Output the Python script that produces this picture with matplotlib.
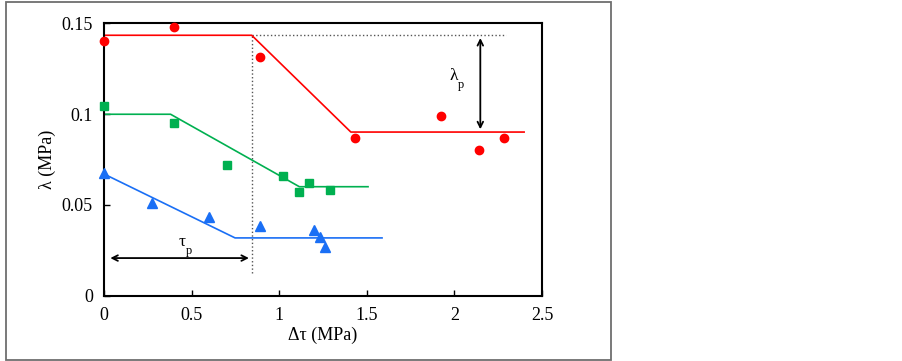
import matplotlib
matplotlib.use("Agg")
import matplotlib.pyplot as plt
from matplotlib.patches import Rectangle

# data
red_x = [0.0, 0.398, 0.891, 1.430, 1.924, 2.143, 2.283]
red_y = [0.1403, 0.148, 0.1313, 0.087, 0.099, 0.080, 0.087]
red_fit_x = [0.0, 0.843, 1.409, 2.398]
red_fit_y = [0.1434, 0.1434, 0.0901, 0.0901]

green_x = [0.0, 0.398, 0.702, 1.020, 1.113, 1.170, 1.289]
green_y = [0.1043, 0.0953, 0.0722, 0.0661, 0.0569, 0.0622, 0.058]
green_fit_x = [0.0, 0.380, 1.115, 1.507]
green_fit_y = [0.0999, 0.0999, 0.060, 0.060]

blue_x = [0.0, 0.272, 0.600, 0.893, 1.200, 1.233, 1.261]
blue_y = [0.0674, 0.0512, 0.0431, 0.0382, 0.0362, 0.0321, 0.027]
blue_fit_x = [0.0, 0.748, 1.587]
blue_fit_y = [0.067, 0.0318, 0.0318]

tau_p = 0.843
lam_top = 0.1434
lam_bottom = 0.0901

xticks = [0, 0.5, 1, 1.5, 2, 2.5]
xticklabels = ["0", "0.5", "1", "1.5", "2", "2.5"]
yticks = [0, 0.05, 0.1, 0.15]
yticklabels = ["0", "0.05", "0.1", "0.15"]

plt.rcParams['font.family'] = ['Liberation Serif', 'DejaVu Serif']

fig = plt.figure(figsize=(9.03, 3.61), dpi=100)
fig.patches.append(Rectangle((6.5 / 903, 1.5 / 361), (611 - 6.5) / 903, (359 - 1.5) / 361,
                             transform=fig.transFigure, fill=False,
                             edgecolor='#6e6e6e', linewidth=1.3))

ax = fig.add_axes([0.1152, 0.181, 0.4850, 0.7545])

ax.plot(red_fit_x, red_fit_y, color='#ff0000', lw=1.2, zorder=2)
ax.plot(green_fit_x, green_fit_y, color='#00b050', lw=1.2, zorder=2)
ax.plot(blue_fit_x, blue_fit_y, color='#1a6ff5', lw=1.2, zorder=2)

ax.plot(red_x, red_y, 'o', color='#ff0000', ms=6, clip_on=False, zorder=3)
ax.plot(green_x, green_y, 's', color='#00b050', ms=5.8, clip_on=False, zorder=3)
ax.plot(blue_x, blue_y, '^', color='#1a6ff5', ms=6.5, clip_on=False, zorder=3)

# dotted guide lines
ax.plot([tau_p, tau_p], [0.0123, lam_top], ':', color='#555555', lw=1.0, zorder=1)
ax.plot([tau_p, 2.293], [lam_top, lam_top], ':', color='#555555', lw=1.0, zorder=1)

# double arrows
ax.annotate('', xy=(2.148, lam_bottom), xytext=(2.148, lam_top),
            arrowprops=dict(arrowstyle='<->', color='black', lw=1.3))
ax.annotate('', xy=(0.02, 0.0207), xytext=(tau_p, 0.0207),
            arrowprops=dict(arrowstyle='<->', color='black', lw=1.3))

# labels with small upright subscript
ax.text(2.02, 0.121, 'λ', fontsize=12.5, ha='right', va='center')
ax.text(2.02, 0.116, 'p', fontsize=9, ha='left', va='center')
ax.text(0.465, 0.0295, 'τ', fontsize=12.5, ha='right', va='center')
ax.text(0.465, 0.0245, 'p', fontsize=9, ha='left', va='center')

ax.set_xlim(0, 2.5)
ax.set_ylim(0, 0.15)
ax.set_xticks(xticks)
ax.set_xticklabels(xticklabels)
ax.set_yticks(yticks)
ax.set_yticklabels(yticklabels)
ax.tick_params(direction='in', length=4, width=1, labelsize=13, pad=8,
               top=False, right=False)
for s in ax.spines.values():
    s.set_linewidth(1.5)

ax.set_xlabel('Δτ (MPa)', fontsize=13, labelpad=2)
ax.set_ylabel('λ (MPa)', fontsize=13, labelpad=4)

fig.savefig('out.png', dpi=100)
